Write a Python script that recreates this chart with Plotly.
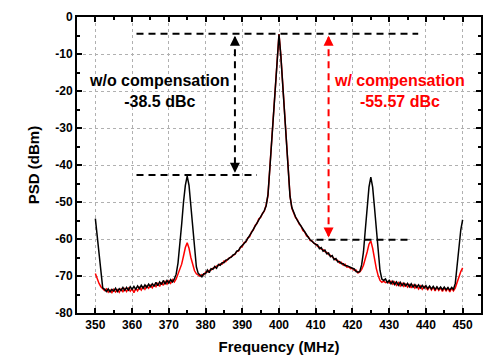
import numpy as np
import plotly.graph_objects as go

# Frequency axis: 350 to 450 MHz, 0.5 MHz step
freq = np.linspace(350, 450, 201)

psd_wo = [
    -54.5, -59.5, -64.5, -69.6, -73.2, -73.6, -74.2, -73.5, -74.3, -73.6, -74.1, -73.3, -74.2, -73.4, -73.9, -73.1, -73.9, -73.1, -73.8, -72.9,
    -73.6, -72.8, -73.6, -72.7, -73.4, -72.5, -73.3, -72.4, -73.1, -72.2, -72.9, -72.1, -72.8, -71.7, -72.6, -71.6, -72.3, -71.2, -72.2, -71.2,
    -71.9, -71.0, -71.6, -70.8, -69.5, -66.5, -62.0, -56.0, -50.0, -45.5, -43.0, -45.5, -51.0, -57.0, -63.0, -67.5, -69.3, -69.8, -70.2, -69.4,
    -69.4, -68.4, -69.1, -68.0, -68.2, -67.4, -67.9, -66.9, -67.1, -66.4, -66.4, -65.7, -65.6, -65.1, -64.9, -64.3, -64.1, -63.3, -63.1, -62.2,
    -61.8, -61.2, -60.6, -59.9, -59.2, -58.3, -57.4, -56.5, -55.6, -54.7, -54.0, -53.3, -52.3, -51.0, -48.0, -41.0, -33.5, -26.0, -18.0, -10.5,
    -4.7, -10.5, -18.0, -24.5, -30.5, -39.5, -48.5, -51.5, -53.0, -54.0, -55.0, -55.8, -56.7, -57.5, -58.3, -59.0, -59.6, -60.2, -60.6, -61.0,
    -61.5, -61.6, -62.6, -62.3, -63.3, -63.0, -64.0, -63.8, -64.8, -64.5, -65.6, -65.3, -66.2, -66.1, -66.7, -66.7, -67.2, -67.2, -67.5, -67.6,
    -67.9, -68.1, -68.8, -69.0, -68.8, -67.0, -63.5, -57.5, -51.5, -46.0, -43.3, -46.0, -51.5, -57.5, -63.5, -68.5, -70.8, -71.2, -70.8, -71.8,
    -71.2, -72.1, -71.4, -72.3, -71.6, -72.5, -71.7, -72.6, -71.9, -72.7, -72.0, -72.9, -72.1, -73.0, -72.3, -73.1, -72.4, -73.2, -72.5, -73.3,
    -72.6, -73.4, -72.7, -73.5, -72.8, -73.6, -72.9, -73.6, -73.0, -73.7, -73.0, -73.7, -73.1, -73.8, -73.1, -73.6, -72.0, -67.0, -62.0, -57.5,
    -54.8,
]

psd_w = [
    -69.3, -70.8, -72.0, -72.9, -73.5, -73.9, -73.5, -74.4, -73.8, -74.5, -73.6, -74.3, -73.7, -74.4, -73.5, -74.2, -73.4, -74.2, -73.3, -74.1,
    -73.4, -74.5, -73.3, -74.0, -73.1, -73.8, -72.8, -73.6, -72.7, -73.3, -72.5, -73.2, -72.3, -72.9, -72.0, -72.8, -71.7, -72.5, -71.5, -72.2,
    -71.3, -72.0, -71.0, -71.6, -70.8, -69.6, -68.2, -66.8, -64.6, -62.3, -61.0, -62.5, -65.0, -67.2, -68.6, -69.4, -69.8, -70.1, -69.6, -69.7,
    -69.0, -68.9, -68.5, -68.4, -67.9, -67.8, -67.3, -67.2, -66.7, -66.8, -66.0, -66.1, -65.5, -65.1, -64.9, -64.3, -64.1, -63.4, -63.2, -62.3,
    -62.0, -61.0, -60.8, -59.7, -59.4, -58.1, -57.6, -56.3, -55.8, -54.5, -54.2, -53.1, -52.5, -50.8, -48.2, -40.8, -33.3, -25.8, -17.8, -10.3,
    -4.6, -10.3, -17.8, -24.3, -30.3, -39.3, -48.3, -51.7, -52.8, -54.2, -54.8, -56.0, -56.5, -57.7, -58.1, -59.2, -59.4, -60.4, -60.5, -61.2,
    -61.3, -62.0, -62.2, -62.7, -62.9, -63.4, -63.6, -64.2, -64.4, -64.9, -65.2, -65.7, -65.8, -66.5, -66.3, -67.1, -66.8, -67.6, -67.5, -68.0,
    -67.9, -68.5, -68.4, -69.2, -68.9, -68.2, -67.1, -65.6, -63.5, -61.4, -60.5, -62.5, -65.4, -68.0, -69.9, -71.2, -71.7, -71.4, -71.8, -71.5,
    -71.9, -71.4, -72.2, -71.6, -72.5, -71.8, -72.7, -72.0, -72.8, -72.2, -73.0, -72.2, -73.2, -72.4, -73.3, -72.6, -73.5, -72.7, -73.6, -72.8,
    -73.2, -73.7, -72.9, -73.8, -73.0, -74.0, -73.1, -73.9, -73.2, -74.2, -73.2, -74.0, -73.3, -74.3, -73.3, -74.0, -73.2, -71.5, -70.0, -68.8,
    -67.8,
]

x_ticks = [350, 360, 370, 380, 390, 400, 410, 420, 430, 440, 450]
y_ticks = [0, -10, -20, -30, -40, -50, -60, -70, -80]

# Annotation levels (dBm) and positions (MHz)
carrier_level = -4.5
spur_level_wo = -42.7
spur_level_w = -60.2
arrow_x_wo = 388.0
arrow_x_w = 413.5
line_top_x = [361.2, 437.9]
line_wo_x = [361.2, 394.0]
line_w_x = [410.2, 435.7]
label_wo = "w/o compensation<br>-38.5 dBc"
label_w = "w/ compensation<br>-55.57 dBc"
label_wo_pos = [367.4, -20.0]
label_w_pos = [432.8, -20.0]

FONT = "Liberation Sans, Arial, sans-serif"
DASH = "7px,5px"

fig = go.Figure()
fig.add_trace(go.Scatter(x=freq, y=psd_w, mode="lines",
                         line=dict(color="#FF0000", width=1.5), showlegend=False))
fig.add_trace(go.Scatter(x=freq, y=psd_wo, mode="lines",
                         line=dict(color="#000000", width=1.5), showlegend=False))

def hline(x0, x1, y, color="black"):
    fig.add_shape(type="line", xref="x", yref="y", x0=x0, x1=x1, y0=y, y1=y,
                  line=dict(color=color, width=2, dash=DASH))

def vline(x, y0, y1, color):
    fig.add_shape(type="line", xref="x", yref="y", x0=x, x1=x, y0=y0, y1=y1,
                  line=dict(color=color, width=2, dash=DASH))

def head(x, y, dy, color):
    fig.add_annotation(x=x, y=y, ax=x, ay=y + dy, xref="x", yref="y", axref="x", ayref="y",
                       text="", showarrow=True, arrowhead=2, arrowsize=1.0, arrowwidth=2,
                       arrowcolor=color, standoff=0)

hline(line_top_x[0], line_top_x[1], carrier_level)
hline(line_wo_x[0], line_wo_x[1], spur_level_wo)
hline(line_w_x[0], line_w_x[1], spur_level_w)

vline(arrow_x_wo, carrier_level - 1, spur_level_wo + 1, "black")
head(arrow_x_wo, carrier_level - 0.6, -2, "black")
head(arrow_x_wo, spur_level_wo + 0.6, 2, "black")

vline(arrow_x_w, carrier_level - 1, spur_level_w + 1, "#FF0000")
head(arrow_x_w, carrier_level - 0.6, -2, "#FF0000")
head(arrow_x_w, spur_level_w + 0.6, 2, "#FF0000")

fig.add_annotation(x=label_wo_pos[0], y=label_wo_pos[1], xref="x", yref="y", text=label_wo,
                   showarrow=False, font=dict(family=FONT, size=16, color="black", weight="bold"),
                   align="center")
fig.add_annotation(x=label_w_pos[0], y=label_w_pos[1], xref="x", yref="y", text=label_w,
                   showarrow=False, font=dict(family=FONT, size=16, color="#FF0000", weight="bold"),
                   align="center")

axis_common = dict(
    showline=True, linecolor="black", linewidth=2, mirror="ticks",
    ticks="inside", ticklen=5, tickwidth=1.5, tickcolor="black",
    showgrid=True, gridcolor="#b0b0b0", gridwidth=1, griddash="dot",
    zeroline=False,
    tickfont=dict(family=FONT, size=12, color="black", weight="bold"),
)

fig.update_xaxes(range=[345, 455], tickvals=x_ticks, ticktext=[str(v) for v in x_ticks],
                 minor=dict(ticks="inside", ticklen=3, tickwidth=1.5, tickcolor="black", dtick=5, tick0=345, showgrid=False),
                 title=dict(text="Frequency (MHz)", font=dict(family=FONT, size=15, color="black", weight="bold"), standoff=10),
                 **axis_common)
fig.update_yaxes(range=[-80, 0], tickvals=y_ticks, ticktext=[str(v) for v in y_ticks],
                 minor=dict(ticks="inside", ticklen=3, tickwidth=1.5, tickcolor="black", dtick=5, tick0=-75, showgrid=False),
                 title=dict(text="PSD (dBm)", font=dict(family=FONT, size=15, color="black", weight="bold"), standoff=12),
                 **axis_common)

fig.update_layout(width=493, height=363, margin=dict(l=77, r=10, t=13, b=47),
                  paper_bgcolor="white", plot_bgcolor="white", showlegend=False)

fig.write_html("out.html")
